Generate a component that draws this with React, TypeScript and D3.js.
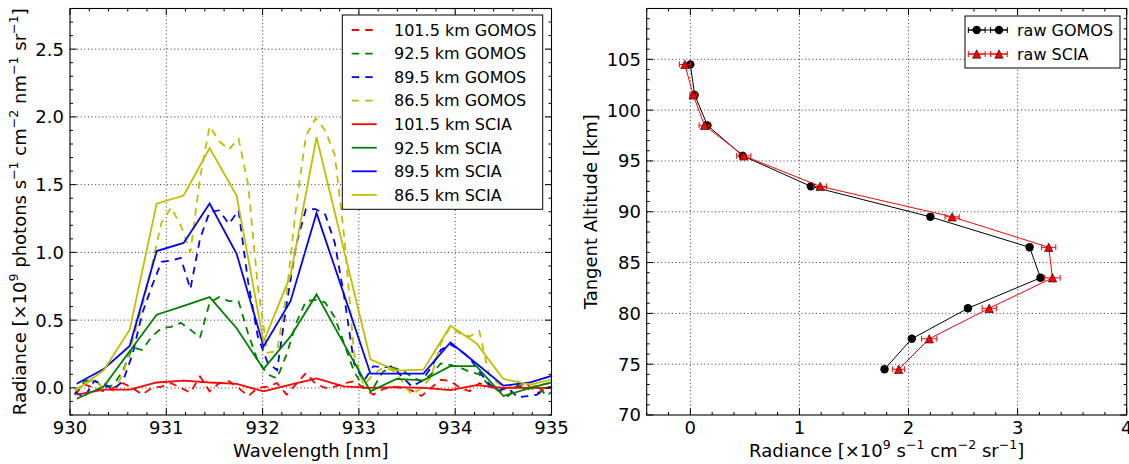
import React from "react";
import * as d3 from "d3";

// ---------------- Left panel data ----------------
const sciaWl = [930.07, 930.35, 930.62, 930.9, 931.18, 931.45, 931.73, 932.01, 932.29, 932.56, 932.84, 933.12, 933.39, 933.67, 933.95, 934.22, 934.5, 934.78, 935.05];
const scia1015 = [-0.05, -0.013, -0.013, 0.04, 0.054, 0.04, 0.03, -0.025, 0.025, 0.07, 0.012, 0.0, 0.005, 0.0, -0.017, 0.02, 0.0, 0.0, 0.0];
const scia925 = [-0.08, 0.01, 0.27, 0.54, 0.605, 0.67, 0.44, 0.14, 0.38, 0.69, 0.33, -0.025, 0.066, 0.056, 0.16, 0.16, -0.06, 0.0, 0.05];
const scia895 = [0.03, 0.14, 0.31, 1.01, 1.07, 1.36, 0.99, 0.306, 0.64, 1.29, 0.7, 0.105, 0.105, 0.105, 0.335, 0.18, 0.017, 0.04, 0.1];
const scia865 = [-0.013, 0.13, 0.43, 1.36, 1.42, 1.77, 1.42, 0.34, 0.83, 1.85, 1.03, 0.21, 0.127, 0.135, 0.458, 0.33, 0.066, 0.024, 0.07];

const gomosWl = [930.05, 930.15, 930.25, 930.35, 930.45, 930.55, 930.65, 930.75, 930.85, 930.95, 931.05, 931.15, 931.25, 931.35, 931.45, 931.55, 931.65, 931.75, 931.85, 931.95, 932.05, 932.15, 932.25, 932.35, 932.45, 932.55, 932.65, 932.75, 932.85, 932.95, 933.05, 933.15, 933.25, 933.35, 933.45, 933.55, 933.65, 933.75, 933.85, 933.95, 934.05, 934.15, 934.25, 934.35, 934.45, 934.55, 934.65, 934.75, 934.85, 934.95, 935.05];
const gomos1015 = [-0.05, 0.025, 0.0, -0.025, 0.0, 0.035, 0.0, -0.05, 0.0, 0.01, 0.035, 0.0, -0.035, 0.085, -0.025, 0.035, 0.05, 0.0, -0.06, 0.0, 0.01, 0.035, -0.05, 0.03, 0.11, 0.03, 0.0, 0.01, 0.035, 0.05, 0.0, -0.05, -0.01, 0.01, 0.0, -0.02, -0.06, 0.0, 0.06, 0.05, 0.0, -0.025, 0.035, 0.01, -0.01, 0.0, 0.01, 0.025, -0.04, 0.0, 0.01];
const gomos925 = [-0.05, 0.05, 0.06, 0.0, 0.02, 0.13, 0.3, 0.28, 0.38, 0.44, 0.45, 0.48, 0.43, 0.37, 0.63, 0.67, 0.64, 0.64, 0.4, 0.2, 0.1, 0.07, 0.25, 0.48, 0.64, 0.65, 0.63, 0.52, 0.32, 0.12, 0.0, 0.0, 0.12, 0.15, 0.13, 0.08, 0.05, 0.1, 0.18, 0.17, 0.15, 0.12, 0.1, 0.02, -0.02, -0.06, 0.02, -0.01, 0.02, -0.06, 0.0];
const gomos895 = [-0.03, -0.07, 0.05, 0.03, -0.01, 0.05, 0.25, 0.55, 0.75, 0.93, 0.94, 0.96, 0.73, 1.1, 1.3, 1.31, 1.21, 1.31, 0.78, 0.38, 0.19, 0.13, 0.62, 1.06, 1.32, 1.32, 1.28, 1.07, 0.66, 0.18, 0.05, 0.16, 0.15, 0.16, 0.08, 0.01, 0.05, 0.15, 0.28, 0.32, 0.28, 0.22, 0.12, 0.03, -0.02, 0.0, -0.07, -0.06, -0.05, 0.0, 0.02];
const gomos865 = [-0.02, 0.03, 0.06, 0.0, -0.02, 0.1, 0.35, 0.6, 0.9, 1.22, 1.33, 1.2, 1.0, 1.55, 1.93, 1.82, 1.76, 1.84, 1.5, 0.75, 0.26, 0.27, 0.7, 1.35, 1.86, 1.99, 1.9, 1.72, 1.1, 0.25, 0.02, 0.1, 0.15, 0.13, 0.05, -0.05, 0.0, 0.08, 0.33, 0.45, 0.4, 0.38, 0.42, 0.1, 0.03, 0.0, 0.05, 0.0, 0.02, 0.03, 0.05];

const leftXTicks = [930, 931, 932, 933, 934, 935];
const leftYTicks = [0.0, 0.5, 1.0, 1.5, 2.0, 2.5];

// ---------------- Right panel data ----------------
const altitudes = [104.5, 101.5, 98.5, 95.5, 92.5, 89.5, 86.5, 83.5, 80.5, 77.5, 74.5];
const gomosRad = [0.0, 0.04, 0.157, 0.48, 1.105, 2.2, 3.11, 3.21, 2.545, 2.03, 1.78];
const gomosErr = [0.02, 0.02, 0.02, 0.02, 0.02, 0.025, 0.025, 0.025, 0.025, 0.02, 0.02];
const sciaRad = [-0.05, 0.026, 0.13, 0.49, 1.19, 2.4, 3.285, 3.32, 2.74, 2.19, 1.91];
const sciaErr = [0.05, 0.03, 0.05, 0.065, 0.06, 0.065, 0.065, 0.07, 0.065, 0.07, 0.055];

const rightXTicks = [0, 1, 2, 3, 4];
const rightYTicks = [70, 75, 80, 85, 90, 95, 100, 105];

const COLORS = { r: "#ff0000", g: "#008000", b: "#0000ff", y: "#bfbf00" };
const FONT = "DejaVu Sans, Bitstream Vera Sans, sans-serif";

type Seg = [string, boolean];

function Rich({ x, y, segs, size, anchor = "middle", rotate = 0 }: { x: number; y: number; segs: Seg[]; size: number; anchor?: string; rotate?: number }) {
  const shift = size * 0.42;
  const children: any[] = [];
  let sup = false;
  segs.forEach(([t, s], i) => {
    let dy = 0;
    if (s && !sup) dy = -shift;
    if (!s && sup) dy = shift;
    sup = s;
    children.push(
      <tspan key={i} dy={dy} fontSize={s ? size * 0.7 : size}>
        {t}
      </tspan>
    );
  });
  return (
    <text
      x={x}
      y={y}
      fontSize={size}
      textAnchor={anchor as any}
      fontFamily={FONT}
      fill="#000"
      transform={rotate ? `rotate(${rotate},${x},${y})` : undefined}
    >
      {children}
    </text>
  );
}

function range(a: number, b: number, step: number) {
  const out: number[] = [];
  const n = Math.round((b - a) / step);
  for (let i = 0; i <= n; i++) out.push(+(a + i * step).toFixed(6));
  return out;
}

function Frame({ x0, x1, y0, y1, xs, ys, xMaj, xMin, yMaj, yMin }: any) {
  const major = 6.5;
  const minor = 3;
  const els: any[] = [];
  // grid
  xMaj.forEach((v: number, i: number) => {
    const px = xs(v);
    if (px > x0 + 1 && px < x1 - 1)
      els.push(<line key={"gx" + i} x1={px} x2={px} y1={y0} y2={y1} stroke="#000" strokeWidth={0.8} strokeDasharray="1,2.6" />);
  });
  yMaj.forEach((v: number, i: number) => {
    const py = ys(v);
    if (py > y0 + 1 && py < y1 - 1)
      els.push(<line key={"gy" + i} x1={x0} x2={x1} y1={py} y2={py} stroke="#000" strokeWidth={0.8} strokeDasharray="1,2.6" />);
  });
  return <g>{els}</g>;
}

function Ticks({ x0, x1, y0, y1, xs, ys, xMaj, xMin, yMaj, yMin }: any) {
  const major = 6.5;
  const minor = 3;
  const els: any[] = [];
  const addX = (v: number, len: number, k: string) => {
    const px = xs(v);
    els.push(<line key={"xb" + k} x1={px} x2={px} y1={y1} y2={y1 - len} stroke="#000" strokeWidth={1} />);
    els.push(<line key={"xt" + k} x1={px} x2={px} y1={y0} y2={y0 + len} stroke="#000" strokeWidth={1} />);
  };
  const addY = (v: number, len: number, k: string) => {
    const py = ys(v);
    els.push(<line key={"yl" + k} x1={x0} x2={x0 + len} y1={py} y2={py} stroke="#000" strokeWidth={1} />);
    els.push(<line key={"yr" + k} x1={x1} x2={x1 - len} y1={py} y2={py} stroke="#000" strokeWidth={1} />);
  };
  xMaj.forEach((v: number, i: number) => addX(v, major, "M" + i));
  xMin.forEach((v: number, i: number) => addX(v, minor, "m" + i));
  yMaj.forEach((v: number, i: number) => addY(v, major, "M" + i));
  yMin.forEach((v: number, i: number) => addY(v, minor, "m" + i));
  return (
    <g>
      {els}
      <rect x={x0} y={y0} width={x1 - x0} height={y1 - y0} fill="none" stroke="#000" strokeWidth={1.1} />
    </g>
  );
}

export default function App() {
  const top = 8.5;
  const bottom = 415;
  // Left panel
  const L = { x0: 70, x1: 551.5, y0: top, y1: bottom };
  const lx = d3.scaleLinear().domain([930, 935]).range([L.x0, L.x1]);
  const ly = d3.scaleLinear().domain([-0.2, 2.8]).range([L.y1, L.y0]);
  const lineL = (xsArr: number[], vals: number[]) =>
    d3.line<number>().x((_, i) => lx(xsArr[i])).y((d) => ly(d))(vals) || "";

  const lxMin = range(930, 935, 0.2).filter((v) => !leftXTicks.some((t) => Math.abs(t - v) < 1e-6));
  const lyMin = range(-0.2, 2.8, 0.1).filter((v) => !leftYTicks.some((t) => Math.abs(t - v) < 1e-6));

  // Right panel
  const R = { x0: 646.7, x1: 1126.7, y0: top, y1: bottom };
  const rx = d3.scaleLinear().domain([-0.4, 4]).range([R.x0, R.x1]);
  const ry = d3.scaleLinear().domain([70, 110]).range([R.y1, R.y0]);
  const rxMin = range(-0.4, 4, 0.2).filter((v) => !rightXTicks.some((t) => Math.abs(t - v) < 1e-6));
  const ryMin = range(70, 110, 1).filter((v) => !rightYTicks.some((t) => Math.abs(t - v) < 1e-6));
  const lineR = (vals: number[]) =>
    d3.line<number>().x((d) => rx(d)).y((_, i) => ry(altitudes[i]))(vals) || "";

  const gomosSeries = [
    { vals: gomos1015, color: COLORS.r, label: "101.5 km GOMOS" },
    { vals: gomos925, color: COLORS.g, label: "92.5 km GOMOS" },
    { vals: gomos895, color: COLORS.b, label: "89.5 km GOMOS" },
    { vals: gomos865, color: COLORS.y, label: "86.5 km GOMOS" },
  ];
  const sciaSeries = [
    { vals: scia1015, color: COLORS.r, label: "101.5 km SCIA" },
    { vals: scia925, color: COLORS.g, label: "92.5 km SCIA" },
    { vals: scia895, color: COLORS.b, label: "89.5 km SCIA" },
    { vals: scia865, color: COLORS.y, label: "86.5 km SCIA" },
  ];
  const dash = "7.5,6";
  const lw = 1.8;

  const legendRows = [
    ...gomosSeries.map((s) => ({ ...s, dashed: true })),
    ...sciaSeries.map((s) => ({ ...s, dashed: false })),
  ];

  const tri = (cx: number, cy: number) => `M${cx},${cy - 4.2} L${cx - 4.2},${cy + 4.2} L${cx + 4.2},${cy + 4.2} Z`;

  const errBar = (cx0: number, cx1: number, cy: number, color: string, key: string) => (
    <g key={key}>
      <line x1={cx0} x2={cx1} y1={cy} y2={cy} stroke={color} strokeWidth={1} />
      <line x1={cx0} x2={cx0} y1={cy - 3} y2={cy + 3} stroke={color} strokeWidth={1} />
      <line x1={cx1} x2={cx1} y1={cy - 3} y2={cy + 3} stroke={color} strokeWidth={1} />
    </g>
  );

  const leftYLabel: Seg[] = [
    ["Radiance [×10", false], ["9", true], [" photons s", false], ["−1", true], [" cm", false], ["−2", true],
    [" nm", false], ["−1", true], [" sr", false], ["−1", true], ["]", false],
  ];
  const rightXLabel: Seg[] = [
    ["Radiance [×10", false], ["9", true], [" s", false], ["−1", true], [" cm", false], ["−2", true],
    [" sr", false], ["−1", true], ["]", false],
  ];

  return (
    <svg width={1129} height={464} style={{ position: "absolute", left: 0, top: 0, background: "#fff" }} fontFamily={FONT}>
      <rect x={0} y={0} width={1129} height={464} fill="#fff" />
      <defs>
        <clipPath id="clipL">
          <rect x={L.x0} y={L.y0} width={L.x1 - L.x0} height={L.y1 - L.y0} />
        </clipPath>
        <clipPath id="clipR">
          <rect x={R.x0} y={R.y0} width={R.x1 - R.x0} height={R.y1 - R.y0} />
        </clipPath>
      </defs>

      {/* ---------- Left panel ---------- */}
      <Frame {...L} xs={lx} ys={ly} xMaj={leftXTicks} xMin={lxMin} yMaj={leftYTicks} yMin={lyMin} />
      <g clipPath="url(#clipL)">
        {gomosSeries.map((s, i) => (
          <path key={"g" + i} d={lineL(gomosWl, s.vals)} fill="none" stroke={s.color} strokeWidth={lw} strokeDasharray={dash} />
        ))}
        {sciaSeries.map((s, i) => (
          <path key={"s" + i} d={lineL(sciaWl, s.vals)} fill="none" stroke={s.color} strokeWidth={lw} />
        ))}
      </g>
      <Ticks {...L} xs={lx} ys={ly} xMaj={leftXTicks} xMin={lxMin} yMaj={leftYTicks} yMin={lyMin} />
      {leftXTicks.map((t) => (
        <text key={"lxt" + t} x={lx(t)} y={433.5} fontSize={18} textAnchor="middle" fill="#000">
          {t}
        </text>
      ))}
      {leftYTicks.map((t) => (
        <text key={"lyt" + t} x={64} y={ly(t)} dy="0.36em" fontSize={18} textAnchor="end" fill="#000">
          {t.toFixed(1)}
        </text>
      ))}
      <text x={(L.x0 + L.x1) / 2} y={457} fontSize={18} textAnchor="middle" fill="#000">
        Wavelength [nm]
      </text>
      <Rich x={26} y={(L.y0 + L.y1) / 2} segs={leftYLabel} size={18} rotate={-90} />

      {/* left legend */}
      <g>
        <rect x={342.3} y={15} width={200.4} height={194.3} fill="#fff" stroke="#000" strokeWidth={1} />
        {legendRows.map((r, i) => {
          const yy = 30 + i * 23.55;
          return (
            <g key={"lg" + i}>
              <line x1={351.7} x2={376.7} y1={yy} y2={yy} stroke={r.color} strokeWidth={lw} strokeDasharray={r.dashed ? dash : undefined} />
              <text x={394} y={yy} dy="0.36em" fontSize={16} fill="#000">
                {r.label}
              </text>
            </g>
          );
        })}
      </g>

      {/* ---------- Right panel ---------- */}
      <Frame {...R} xs={rx} ys={ry} xMaj={rightXTicks} xMin={rxMin} yMaj={rightYTicks} yMin={ryMin} />
      <g clipPath="url(#clipR)">
        <path d={lineR(gomosRad)} fill="none" stroke="#000" strokeWidth={1} />
        {gomosRad.map((v, i) => errBar(rx(v - gomosErr[i]), rx(v + gomosErr[i]), ry(altitudes[i]), "#000", "ge" + i))}
        {gomosRad.map((v, i) => (
          <circle key={"gc" + i} cx={rx(v)} cy={ry(altitudes[i])} r={4.2} fill="#000" />
        ))}
        <path d={lineR(sciaRad)} fill="none" stroke={COLORS.r} strokeWidth={1} />
        {sciaRad.map((v, i) => errBar(rx(v - sciaErr[i]), rx(v + sciaErr[i]), ry(altitudes[i]), COLORS.r, "se" + i))}
        {sciaRad.map((v, i) => (
          <path key={"st" + i} d={tri(rx(v), ry(altitudes[i]))} fill={COLORS.r} stroke="#000" strokeWidth={0.6} />
        ))}
      </g>
      <Ticks {...R} xs={rx} ys={ry} xMaj={rightXTicks} xMin={rxMin} yMaj={rightYTicks} yMin={ryMin} />
      {rightXTicks.map((t) => (
        <text key={"rxt" + t} x={rx(t)} y={433.5} fontSize={18} textAnchor="middle" fill="#000">
          {t}
        </text>
      ))}
      {rightYTicks.map((t) => (
        <text key={"ryt" + t} x={641} y={ry(t)} dy="0.36em" fontSize={18} textAnchor="end" fill="#000">
          {t}
        </text>
      ))}
      <Rich x={(R.x0 + R.x1) / 2} y={457} segs={rightXLabel} size={18} />
      <text x={597} y={(R.y0 + R.y1) / 2} fontSize={18} textAnchor="middle" fill="#000" transform={`rotate(-90,597,${(R.y0 + R.y1) / 2})`}>
        Tangent Altitude [km]
      </text>

      {/* right legend */}
      <g>
        <rect x={965} y={16} width={155} height={52} fill="#fff" stroke="#000" strokeWidth={1} />
        {[
          { label: "raw GOMOS", color: "#000", kind: "c" },
          { label: "raw SCIA", color: COLORS.r, kind: "t" },
        ].map((r, i) => {
          const yy = 30 + i * 24;
          const m1 = 976.7;
          const m2 = 999;
          return (
            <g key={"rl" + i}>
              <line x1={968.3} x2={1007.3} y1={yy} y2={yy} stroke={r.color} strokeWidth={1} />
              {errBar(968.3, 985.1, yy, r.color, "a")}
              {errBar(990.6, 1007.3, yy, r.color, "b")}
              {r.kind === "c" ? (
                <>
                  <circle cx={m1} cy={yy} r={4.2} fill="#000" />
                  <circle cx={m2} cy={yy} r={4.2} fill="#000" />
                </>
              ) : (
                <>
                  <path d={tri(m1, yy)} fill={COLORS.r} stroke="#000" strokeWidth={0.6} />
                  <path d={tri(m2, yy)} fill={COLORS.r} stroke="#000" strokeWidth={0.6} />
                </>
              )}
              <text x={1017} y={yy} dy="0.36em" fontSize={16} fill="#000">
                {r.label}
              </text>
            </g>
          );
        })}
      </g>
    </svg>
  );
}
